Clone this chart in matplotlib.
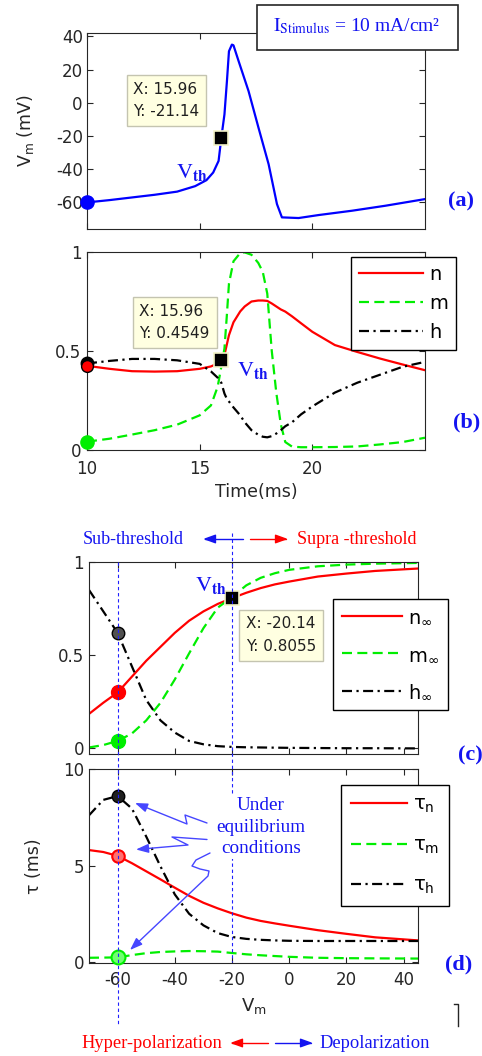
import matplotlib
matplotlib.use('Agg')
import matplotlib.pyplot as plt
from matplotlib.patches import Rectangle, FancyArrowPatch
from matplotlib.path import Path
from matplotlib.lines import Line2D
from matplotlib.transforms import blended_transform_factory

plt.rcParams['font.family'] = ['DejaVu Sans']
plt.rcParams['axes.unicode_minus'] = False
plt.rcParams['mathtext.fontset'] = 'dejavusans'

W, H = 482, 1056
SERIF = 'Liberation Serif'
BLUE = '#1414f0'
RED = '#ff0000'
GREEN = '#00ee00'
INK = '#262626'

# (a) membrane potential during the spike
time_a = [10, 11, 12, 13, 14, 14.8, 15.3, 15.6, 15.84, 15.96, 16.1, 16.21, 16.3,
          16.43, 16.5, 16.73, 17.17, 17.61, 18.06, 18.43, 18.65, 19.39, 20.28,
          21.76, 23.24, 25]
vm_a = [-60, -58.6, -57, -55.4, -53.5, -50.2, -46.6, -42, -35, -21.14, -7, 13, 31,
        35, 34.6, 25, 7, -15, -37, -61, -69, -69.4, -67.6, -65, -62, -58]

# (b) gating variables over time
time_b = [10, 11, 12, 13, 14, 15, 15.5, 15.8, 15.96, 16.1, 16.2, 16.3, 16.5, 16.8,
          17.0, 17.3, 17.6, 17.8, 18.0, 18.2, 18.4, 18.6, 18.8, 19.1, 19.5, 20, 21,
          22, 23, 24, 25]
gate_n = [0.425, 0.41, 0.398, 0.396, 0.398, 0.41, 0.422, 0.437, 0.4549, 0.48, 0.53,
          0.58, 0.645, 0.70, 0.725, 0.75, 0.755, 0.755, 0.753, 0.74, 0.725, 0.71,
          0.699, 0.675, 0.64, 0.597, 0.53, 0.495, 0.462, 0.432, 0.403]
gate_m = [0.042, 0.057, 0.078, 0.10, 0.128, 0.175, 0.225, 0.32, 0.42, 0.513, 0.67,
          0.84, 0.953, 0.995, 0.998, 0.986, 0.945, 0.9, 0.79, 0.5, 0.29, 0.13,
          0.04, 0.017, 0.014, 0.014, 0.015, 0.018, 0.028, 0.04, 0.062]
gate_h = [0.437, 0.45, 0.46, 0.46, 0.453, 0.435, 0.397, 0.365, 0.34, 0.285, 0.26,
          0.245, 0.215, 0.175, 0.14, 0.1, 0.077, 0.067, 0.064, 0.07, 0.083, 0.1,
          0.12, 0.14, 0.18, 0.22, 0.29, 0.34, 0.38, 0.42, 0.445]

# (c) steady-state values and (d) time constants vs membrane voltage
volt = [-70, -65, -60, -55, -50, -45, -40, -35, -30, -25, -20.14, -15, -10, -5, 0,
        10, 20, 30, 45]
n_inf = [0.185, 0.245, 0.30, 0.385, 0.47, 0.545, 0.62, 0.685, 0.735, 0.775, 0.8055,
         0.835, 0.86, 0.88, 0.895, 0.922, 0.938, 0.952, 0.965]
m_inf = [0.005, 0.018, 0.04, 0.08, 0.15, 0.245, 0.37, 0.51, 0.645, 0.755, 0.81,
         0.875, 0.915, 0.94, 0.958, 0.977, 0.986, 0.991, 0.995]
h_inf = [0.85, 0.735, 0.62, 0.44, 0.26, 0.15, 0.085, 0.04, 0.022, 0.012, 0.008,
         0.006, 0.005, 0.004, 0.003, 0.002, 0.001, 0.001, 0.0]
tau_n = [5.8, 5.7, 5.5, 5.12, 4.7, 4.28, 3.85, 3.43, 3.07, 2.78, 2.53, 2.3, 2.13,
         2.0, 1.88, 1.65, 1.46, 1.28, 1.12]
tau_m = [0.22, 0.23, 0.24, 0.36, 0.46, 0.52, 0.55, 0.57, 0.56, 0.54, 0.47, 0.4,
         0.35, 0.31, 0.27, 0.22, 0.2, 0.19, 0.18]
tau_h = [7.6, 8.4, 8.6, 7.95, 6.5, 4.95, 3.5, 2.5, 1.9, 1.5, 1.3, 1.2, 1.15, 1.12,
         1.1, 1.09, 1.09, 1.09, 1.09]

i_tip_a = time_a.index(15.96)
i_tip_b = time_b.index(15.96)
i_rest = volt.index(-60)
i_th = volt.index(-20.14)

SOLID = '-'
DASH = (0, (4.5, 2.4))
DASHDOT = (0, (4.5, 2, 1, 2))


def fx(px):
    return px / W


def fy(py):
    return 1 - py / H


def new_axes(x0, y0, x1, y1):
    ax = fig.add_axes([fx(x0), fy(y1), (x1 - x0) / W, (y1 - y0) / H])
    ax.tick_params(direction='in', top=True, right=True, length=4, width=0.8,
                   labelsize=12, colors=INK)
    for s in ax.spines.values():
        s.set_linewidth(0.8)
        s.set_color(INK)
    return ax


def data_tip(ax, x, y, text):
    ax.text(x, y, text, ha='center', va='center', multialignment='left',
            fontsize=11, color='#202020', linespacing=1.6, zorder=6,
            bbox=dict(boxstyle='square,pad=0.45', fc='#ffffe1', ec='#c4c4b0', lw=1))


def vth(ax, x, y):
    ax.text(x, y, r'$\mathrm{V}_{\mathbf{th}}$', math_fontfamily='stix',
            fontsize=16, color=BLUE, va='baseline', ha='left', zorder=6)


def tip_marker(ax, x, y):
    ax.plot(x, y, 's', color='black', ms=10, mec='#f4f4c8', mew=1.2, zorder=5)


def fig_arrow(pts, color, lw=1.0):
    verts = [(fx(x), fy(y)) for x, y in pts]
    arr = FancyArrowPatch(path=Path(verts), transform=fig.transFigure,
                          arrowstyle='-|>,head_length=0.75,head_width=0.27',
                          mutation_scale=10, color=color, lw=lw, zorder=4)
    fig.add_artist(arr)


def panel_tag(px, py, tag):
    fig.text(fx(px), fy(py), tag, ha='center', va='center', family=SERIF,
             fontweight='bold', fontsize=16, color=BLUE)


def add_legend(ax, lines, labels, x0, y0, spacing, pad, hlen):
    leg = ax.legend(lines, labels, loc='upper left', bbox_to_anchor=(fx(x0), fy(y0)),
                    bbox_transform=fig.transFigure, borderaxespad=0, fontsize=14,
                    handlelength=hlen, handletextpad=0.3, labelspacing=spacing,
                    borderpad=pad, fancybox=False, framealpha=1, edgecolor='black')
    leg.get_frame().set_linewidth(1.0)
    return leg


fig = plt.figure(figsize=(W / 100, H / 100), dpi=100)

# ---- (a) V_m ----
ax_a = new_axes(87, 33, 425, 229)
ax_a.plot(time_a, vm_a, color='#0000ff', lw=1.6)
ax_a.plot(time_a[0], vm_a[0], 'o', color='#0000ff', ms=9.5, clip_on=False, zorder=5)
tip_marker(ax_a, time_a[i_tip_a], vm_a[i_tip_a])
data_tip(ax_a, 13.53, 1.5, f'X: {time_a[i_tip_a]:.2f}\nY: {vm_a[i_tip_a]:.2f}')
vth(ax_a, 13.95, -45)
ax_a.set_xlim(10, 25)
ax_a.set_ylim(-76, 42)
ax_a.set_xticks([10, 15, 20])
ax_a.set_xticklabels([])
ax_a.set_yticks([-60, -40, -20, 0, 20, 40])
ax_a.tick_params(axis='y', pad=3)
ax_a.set_ylabel(r'V$_{\rm m}$ (mV)', fontsize=12.5, color=INK)
ax_a.yaxis.set_label_coords(-0.15, 0.5)

# ---- (b) n, m, h ----
ax_b = new_axes(87, 252, 425, 450)
l_n, = ax_b.plot(time_b, gate_n, color=RED, lw=1.6, ls=SOLID)
l_m, = ax_b.plot(time_b, gate_m, color=GREEN, lw=1.6, ls=DASH)
l_h, = ax_b.plot(time_b, gate_h, color='black', lw=1.6, ls=DASHDOT)
ax_b.plot(time_b[0], gate_h[0], 'o', color='black', ms=9, clip_on=False, zorder=5)
ax_b.plot(time_b[0], gate_n[0], 'o', mfc=RED, mec='black', ms=8.5, clip_on=False, zorder=5)
ax_b.plot(time_b[0], gate_m[0], 'o', color=GREEN, ms=9.5, clip_on=False, zorder=5)
tip_marker(ax_b, time_b[i_tip_b], gate_n[i_tip_b])
data_tip(ax_b, 13.89, 0.645, f'X: {time_b[i_tip_b]:.2f}\nY: {gate_n[i_tip_b]:.4f}')
vth(ax_b, 16.67, 0.376)
ax_b.set_xlim(10, 25)
ax_b.set_ylim(0, 1)
ax_b.set_xticks([10, 15, 20])
ax_b.set_yticks([0, 0.5, 1])
ax_b.set_yticklabels(['0', '0.5', '1'])
ax_b.tick_params(axis='x', pad=7)
ax_b.tick_params(axis='y', pad=4)
ax_b.set_xlabel('Time(ms)', fontsize=12.5, color=INK)
ax_b.xaxis.set_label_coords(0.5, -0.165)
add_legend(ax_b, [l_n, l_m, l_h], ['n', 'm', 'h'], 351, 257, 0.5, 0.42, 3.3)

# ---- (c) steady states ----
ax_c = new_axes(89, 562, 418, 754)
c_n, = ax_c.plot(volt, n_inf, color=RED, lw=1.6, ls=SOLID)
c_m, = ax_c.plot(volt, m_inf, color=GREEN, lw=1.6, ls=DASH)
c_h, = ax_c.plot(volt, h_inf, color='black', lw=1.6, ls=DASHDOT)
ax_c.plot(volt[i_rest], h_inf[i_rest], 'o', mfc='#505050', mec='black', ms=9, zorder=5)
ax_c.plot(volt[i_rest], n_inf[i_rest], 'o', color=RED, ms=10, zorder=5)
ax_c.plot(volt[i_rest], m_inf[i_rest], 'o', color=GREEN, ms=10, zorder=5)
tip_marker(ax_c, volt[i_th], n_inf[i_th])
data_tip(ax_c, -2.93, 0.608, f'X: {volt[i_th]:.2f}\nY: {n_inf[i_th]:.4f}')
vth(ax_c, -33.1, 0.843)
ax_c.set_xlim(-70, 45)
ax_c.set_ylim(-0.03, 1.0)
ax_c.set_xticks([-60, -40, -20, 0, 20, 40])
ax_c.set_xticklabels([])
ax_c.set_yticks([0, 0.5, 1])
ax_c.set_yticklabels(['0', '0.5', '1'])
add_legend(ax_c, [c_n, c_m, c_h], [r'n$_\infty$', r'm$_\infty$', r'h$_\infty$'],
           333, 599, 0.95, 0.45, 3.1)

# ---- (d) time constants ----
ax_d = new_axes(89, 769, 418, 963)
d_n, = ax_d.plot(volt, tau_n, color=RED, lw=1.6, ls=SOLID)
d_m, = ax_d.plot(volt, tau_m, color=GREEN, lw=1.6, ls=DASH)
d_h, = ax_d.plot(volt, tau_h, color='black', lw=1.6, ls=DASHDOT)
ax_d.plot(volt[i_rest], tau_h[i_rest], 'o', mfc='#202020', mec='black', ms=9, zorder=5)
ax_d.plot(volt[i_rest], tau_n[i_rest], 'o', mfc='#ff7070', mec=RED, mew=1.5, ms=9, zorder=5)
ax_d.plot(volt[i_rest], tau_m[i_rest], 'o', mfc='#70ff70', mec=GREEN, mew=1.5, ms=10,
          zorder=5, clip_on=False)
ax_d.set_xlim(-70, 45)
ax_d.set_ylim(-0.05, 10)
ax_d.set_xticks([-60, -40, -20, 0, 20, 40])
ax_d.set_yticks([0, 5, 10])
ax_d.tick_params(axis='x', pad=6)
ax_d.set_xlabel(r'V$_{\rm m}$', fontsize=13, color=INK)
ax_d.xaxis.set_label_coords(0.5, -0.17)
ax_d.set_ylabel('τ (ms)', fontsize=12.5, color=INK)
ax_d.yaxis.set_label_coords(-0.14, 0.5)
add_legend(ax_d, [d_n, d_m, d_h], ['τ$_{\\rm n}$', 'τ$_{\\rm m}$', 'τ$_{\\rm h}$'],
           341, 785, 1.05, 0.5, 2.9)

# vertical guides at rest and threshold, spanning panels (c) and (d)
guide = blended_transform_factory(ax_c.transData, fig.transFigure)
for v, top, bottom in [(-60, 562, 1025), (-20, 533, 962)]:
    fig.add_artist(Line2D([v, v], [fy(top), fy(bottom)], transform=guide, color='#2020ff',
                          lw=0.8, ls=(0, (3, 2.5)), zorder=2))

# stimulus box
fig.add_artist(Rectangle((fx(257), fy(50)), 201 / W, 45 / H, transform=fig.transFigure,
                         fc='white', ec=INK, lw=1.2, zorder=3))
fig.text(fx(273), fy(31), r'$\mathrm{I}_{\mathrm{Stimulus}}$ = 10 mA/cm²',
         math_fontfamily='stix', family=SERIF, fontsize=14, color=BLUE,
         va='baseline', ha='left', zorder=4)

panel_tag(461, 201, '(a)')
panel_tag(467, 422, '(b)')
panel_tag(470, 755, '(c)')
panel_tag(459, 964, '(d)')

# threshold annotation row
fig.text(fx(83), fy(539), 'Sub-threshold', ha='left', va='center', family=SERIF,
         fontsize=13, color=BLUE)
fig_arrow([(243, 539), (203, 539)], BLUE)
fig_arrow([(250, 539), (288, 539)], RED)
fig.text(fx(297), fy(539), 'Supra -threshold', ha='left', va='center', family=SERIF,
         fontsize=13, color=RED)

# polarization row
fig.text(fx(81), fy(1043), 'Hyper-polarization', ha='left', va='center', family=SERIF,
         fontsize=13.3, color=RED)
fig_arrow([(268, 1043), (230, 1043)], RED)
fig_arrow([(275, 1043), (313, 1043)], BLUE)
fig.text(fx(319), fy(1043), 'Depolarization', ha='left', va='center', family=SERIF,
         fontsize=13.3, color=BLUE)

# equilibrium callout with zigzag arrows
fig.text(fx(261), fy(827), 'Under\nequilibrium\nconditions', ha='center', va='center',
         family=SERIF, fontsize=13.8, color=BLUE, linespacing=1.38, zorder=3,
         bbox=dict(fc='white', ec='none', pad=1))
ARROW_BLUE = '#4646ff'
fig_arrow([(207, 823), (185, 815), (187, 824), (135, 803)], ARROW_BLUE)
fig_arrow([(207, 839.5), (172, 837), (188, 845), (136, 849.5)], ARROW_BLUE)
fig_arrow([(210, 853), (196, 860), (192, 866), (200, 869), (209, 871), (208, 876),
           (130, 950)], ARROW_BLUE)

fig.add_artist(Line2D([fx(454), fx(458), fx(458)], [fy(1004), fy(1004), fy(1026)],
                      transform=fig.transFigure, color=INK, lw=1))

fig.savefig('out.png', dpi=100)
